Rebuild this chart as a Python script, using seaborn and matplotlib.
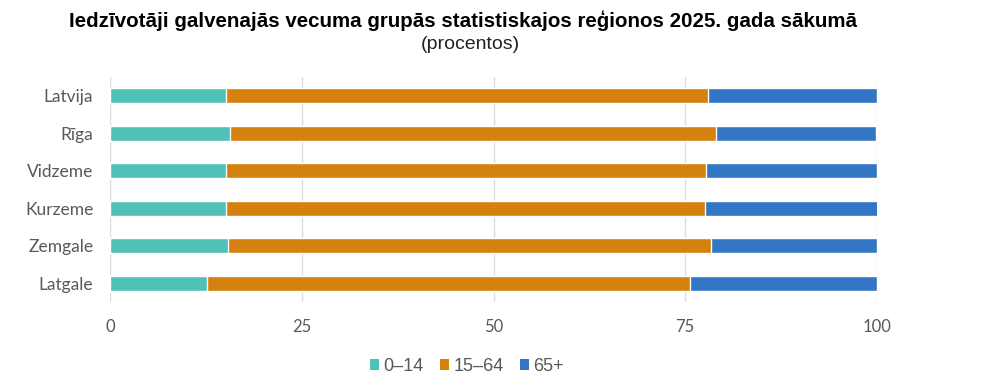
import pandas as pd
import numpy as np
import seaborn as sns
import matplotlib.pyplot as plt
from matplotlib.patches import Patch

# Data (percent)
regions = ["Latvija", "Rīga", "Vidzeme", "Kurzeme", "Zemgale", "Latgale"]
age_0_14 = [15.1, 15.6, 15.1, 15.1, 15.4, 12.7]
age_15_64 = [62.9, 63.4, 62.6, 62.5, 63.0, 62.9]
age_65 = [22.0, 20.9, 22.3, 22.6, 21.6, 24.4]
groups = ["0–14", "15–64", "65+"]
colors = ["#4fc1b6", "#d4810f", "#3376c5"]

df = pd.DataFrame({"region": regions, "0–14": age_0_14, "15–64": age_15_64, "65+": age_65})
# cumulative sums for stacking
df["c1"] = df["0–14"]
df["c2"] = df["c1"] + df["15–64"]
df["c3"] = df["c2"] + df["65+"]

sns.set_style("white")
plt.rcParams["font.family"] = ["Liberation Sans", "DejaVu Sans"]

fig = plt.figure(figsize=(10, 3.92), dpi=100)
ax = fig.add_axes([0.11, 0.23, 0.767, 0.574])

for col, c in zip(["c3", "c2", "c1"], colors[::-1]):
    sns.barplot(data=df, x=col, y="region", color=c, orient="h", width=0.4,
                saturation=1, ax=ax, order=regions)

ax.set_xlim(0, 100)
ax.set_xticks([0, 25, 50, 75, 100])
ax.grid(axis="x", color="#dcdcdc", linewidth=1)
ax.set_axisbelow(True)
for s in ax.spines.values():
    s.set_visible(False)
ax.set_xlabel("")
ax.set_ylabel("")
ax.tick_params(axis="both", length=0, colors="#595959", labelsize=12.5)
ax.tick_params(axis="x", pad=12, labelsize=12)
ax.tick_params(axis="y", pad=12)
for lab in ax.get_xticklabels() + ax.get_yticklabels():
    lab.set_family(["Lato", "DejaVu Sans"])

fig.text(0.463, 0.948, "Iedzīvotāji galvenajās vecuma grupās statistiskajos reģionos 2025. gada sākumā",
         ha="center", va="center", fontsize=14.8, fontweight="bold", color="black")
fig.text(0.47, 0.887, "(procentos)", ha="center", va="center", fontsize=14, color="#222222")

handles = [Patch(facecolor=c, edgecolor="none", label=g) for g, c in zip(groups, colors)]
fig.legend(handles=handles, loc="center", bbox_to_anchor=(0.467, 0.065), ncol=3, frameon=False,
           fontsize=13, handlelength=0.5, handleheight=0.5, handletextpad=0.25, columnspacing=0.9,
           labelcolor="#595959")

fig.savefig("out.png", dpi=100)
